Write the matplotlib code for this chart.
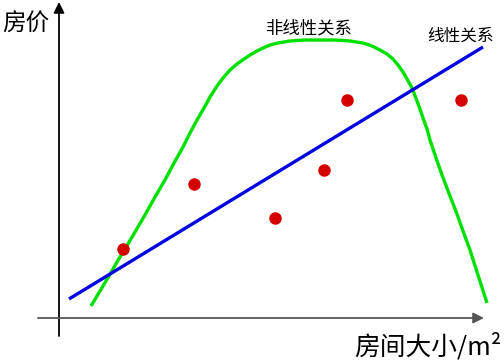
import numpy as np
import matplotlib
matplotlib.use("Agg")
import matplotlib.pyplot as plt

plt.rcParams['font.family'] = ['Noto Sans CJK SC', 'DejaVu Sans']

# 数据（以画面像素坐标读取）
dot_x = [123, 194, 275, 324, 347, 461]
dot_y = [249, 184, 218, 170, 100, 100]

lin_x = [69, 483]
lin_y = [299, 47]

curve_x = [91, 100, 109, 117, 125, 135, 145, 155, 165, 174, 183, 190, 197, 204, 210,
           217, 223, 230, 237, 244, 250, 257, 263, 270, 278, 290, 305, 320, 335, 350,
           363, 372, 380, 387, 393, 398, 403, 407, 411, 414, 417, 420, 423, 427, 430,
           436, 442, 450, 457, 463, 470, 478, 487]
curve_y = [306, 291, 276, 262, 249, 232, 215, 197, 180, 163, 147, 133, 120, 108, 97,
           86, 78, 70, 64, 59, 55, 51, 48, 45, 43, 41, 40, 40, 40, 41,
           43, 46, 50, 54, 59, 65, 72, 79, 86, 93, 101, 109, 118, 129, 140,
           158, 175, 196, 214, 231, 250, 275, 303]

fig = plt.figure(figsize=(5.04, 3.63), dpi=100)
ax = fig.add_axes([0, 0, 1, 1])
ax.set_xlim(0, 504)
ax.set_ylim(363, 0)
ax.axis('off')

# 坐标轴箭头
ax.annotate('', xy=(59, 2), xytext=(59, 336),
            arrowprops=dict(arrowstyle='-|>', color='black', lw=1.3,
                            mutation_scale=16, shrinkA=0, shrinkB=0))
ax.annotate('', xy=(484, 318), xytext=(38, 318),
            arrowprops=dict(arrowstyle='-|>', color='#555555', lw=1.3,
                            mutation_scale=16, shrinkA=0, shrinkB=0))

ax.plot(curve_x, curve_y, color='#00e000', lw=2.4, solid_capstyle='butt',
        solid_joinstyle='round')
ax.plot(lin_x, lin_y, color='#0000e0', lw=2.4, solid_capstyle='butt')
ax.plot(dot_x, dot_y, 'o', color='#d40000', markersize=9, markeredgewidth=0)

ax.text(2, 24, '房价', fontsize=17, ha='left', va='center')
ax.text(501, 347, '房间大小/m²', fontsize=18.5, ha='right', va='center')
ax.text(308, 28, '非线性关系', fontsize=12.5, ha='center', va='center')
ax.text(460, 36, '线性关系', fontsize=12, ha='center', va='center')

fig.savefig('out.png', dpi=100)
